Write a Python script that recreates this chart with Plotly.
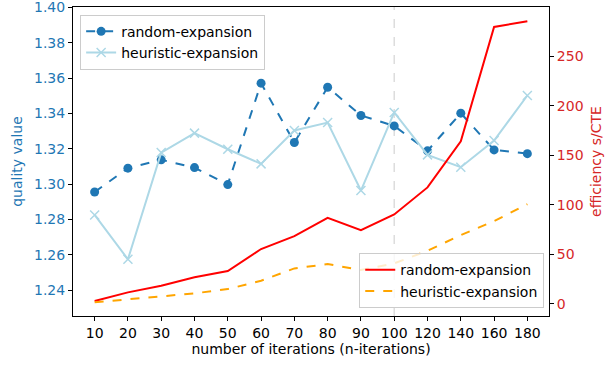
import plotly.graph_objects as go

# iteration counts (categorical x axis)
iterations = ["10", "20", "30", "40", "50", "60", "70", "80", "90", "100", "120", "140", "160", "180"]

# quality value (left axis)
quality_random = [1.2955, 1.309, 1.3137, 1.3093, 1.2997, 1.3571, 1.3235, 1.3548, 1.3388, 1.3329, 1.3188, 1.3401, 1.3193, 1.3172]
quality_heuristic = [1.2825, 1.2574, 1.3178, 1.3288, 1.3197, 1.3114, 1.3303, 1.3348, 1.2963, 1.3405, 1.3165, 1.3095, 1.3246, 1.3501]

# efficiency s/CTE (right axis)
eff_random = [2.7, 11.5, 18.2, 26.7, 33.0, 55.3, 68.4, 86.9, 74.4, 90.3, 117.6, 164.3, 279.8, 285.6]
eff_heuristic = [1.4, 4.4, 7.0, 10.5, 14.8, 23.2, 35.7, 40.1, 34.0, 40.8, 53.5, 69.4, 83.5, 100.7]

left_ticks = [1.24, 1.26, 1.28, 1.30, 1.32, 1.34, 1.36, 1.38, 1.40]
right_ticks = [0, 50, 100, 150, 200, 250]

BLUE = "#1f77b4"
RED = "#d62728"
FONT = "DejaVu Sans"
FS = 14

fig = go.Figure()

fig.add_trace(go.Scatter(
    x=iterations, y=quality_random, name="random-expansion",
    mode="lines+markers", line=dict(color=BLUE, width=2, dash="dash"),
    marker=dict(symbol="circle", size=9, color=BLUE),
    legend="legend", yaxis="y",
))
fig.add_trace(go.Scatter(
    x=iterations, y=quality_heuristic, name="heuristic-expansion",
    mode="lines+markers", line=dict(color="lightblue", width=2),
    marker=dict(symbol="x-thin", size=9, line=dict(color="lightblue", width=1.5)),
    legend="legend", yaxis="y",
))
fig.add_trace(go.Scatter(
    x=iterations, y=eff_random, name="random-expansion",
    mode="lines", line=dict(color="red", width=2),
    legend="legend2", yaxis="y2",
))
fig.add_trace(go.Scatter(
    x=iterations, y=eff_heuristic, name="heuristic-expansion",
    mode="lines", line=dict(color="orange", width=2, dash="dash"),
    legend="legend2", yaxis="y2",
))

# vertical marker at 100 iterations
fig.add_shape(type="line", xref="x", yref="paper", x0=9, x1=9, y0=0, y1=1,
              line=dict(color="#dddddd", width=1.5, dash="dash"), layer="below")

legend_style = dict(
    bgcolor="rgba(255,255,255,0.8)", bordercolor="#cccccc", borderwidth=1,
    font=dict(family=FONT, size=FS, color="black"), tracegroupgap=0, itemwidth=30,
)

fig.update_layout(
    width=613, height=365,
    margin=dict(l=73, r=64, t=7, b=49, autoexpand=False),
    plot_bgcolor="white", paper_bgcolor="white",
    font=dict(family=FONT, size=FS, color="black"),
    showlegend=True,
    xaxis=dict(
        type="category", range=[-0.65, 13.65],
        showline=True, linecolor="black", linewidth=1.1, mirror=True,
        ticks="outside", ticklen=4, tickcolor="black", showgrid=False, zeroline=False,
        title=dict(text="number of iterations (n-iterations)", font=dict(size=FS), standoff=4),
        tickfont=dict(size=FS),
    ),
    yaxis=dict(
        range=[1.2253, 1.4002], tickvals=left_ticks, ticktext=[f"{v:.2f}" for v in left_ticks],
        showline=True, linecolor="black", linewidth=1.1, ticklabeloverflow="allow",
        ticks="outside", ticklen=4, tickcolor="black", showgrid=False, zeroline=False,
        tickfont=dict(color=BLUE, size=FS), automargin=False,
        title=dict(text="quality value", font=dict(color=BLUE, size=FS), standoff=8),
    ),
    yaxis2=dict(
        overlaying="y", side="right", range=[-12.4, 300], tickvals=right_ticks,
        showline=True, linecolor="black", linewidth=1.1,
        ticks="outside", ticklen=4, tickcolor="black", showgrid=False, zeroline=False,
        tickfont=dict(color=RED, size=FS),
        title=dict(text="efficiency s/CTE", font=dict(color=RED, size=FS), standoff=8),
    ),
    legend=dict(x=0.015, y=0.975, xanchor="left", yanchor="top", **legend_style),
    legend2=dict(x=0.99, y=0.025, xanchor="right", yanchor="bottom", **legend_style),
)

fig.write_html("out.html")
